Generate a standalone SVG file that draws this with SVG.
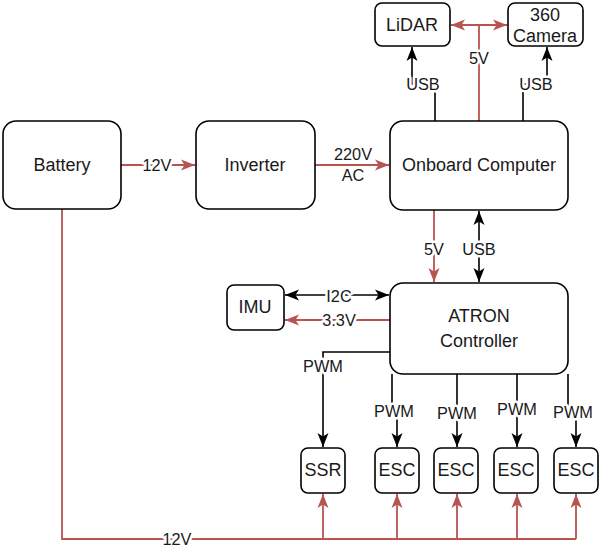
<svg xmlns="http://www.w3.org/2000/svg" width="601" height="547" viewBox="0 0 601 547">
<style>
.node rect{fill:#fff;stroke:#000;stroke-width:1.6}
.t{font-family:"Liberation Sans",Arial,sans-serif;font-size:18px;fill:#1a1a1a;text-anchor:middle;dominant-baseline:central}
.lb{font-family:"Liberation Sans",Arial,sans-serif;font-size:16.3px;fill:#1a1a1a;text-anchor:middle;dominant-baseline:central;stroke:#fff;stroke-width:5;paint-order:stroke;stroke-linejoin:round}
.k{fill:none;stroke:#000;stroke-width:1.6}
.r{fill:none;stroke:#b85450;stroke-width:1.8}
.ka{marker-end:url(#ak)}
.ra{marker-end:url(#ar)}
.kb{marker-start:url(#ak);marker-end:url(#ak)}
.rb{marker-start:url(#ar);marker-end:url(#ar)}
</style>
<defs>
<marker id="ak" markerUnits="userSpaceOnUse" markerWidth="15" markerHeight="13" viewBox="0 0 15 13" refX="14" refY="6.5" orient="auto-start-reverse"><path d="M0,1 L14,6.5 L0,12 L3.5,6.5 Z" fill="#000"/></marker>
<marker id="ar" markerUnits="userSpaceOnUse" markerWidth="15" markerHeight="13" viewBox="0 0 15 13" refX="14" refY="6.5" orient="auto-start-reverse"><path d="M0,1 L14,6.5 L0,12 L3.5,6.5 Z" fill="#b85450"/></marker>
</defs>
<g id="connectors">
<path class="r ra" d="M121,165 H195"/>
<path class="r ra" d="M315,165 H389"/>
<path class="r rb" d="M451,25 H507"/>
<path class="r" d="M479,25 V121"/>
<path class="k ka" d="M435,121 V84 H412 V47"/>
<path class="k ka" d="M523,121 V84 H547 V47"/>
<path class="r ra" d="M434,210 V282"/>
<path class="k kb" d="M479,211 V282"/>
<path class="k kb" d="M285,295 H389"/>
<path class="r ra" d="M390,320 H285"/>
<path class="k ka" d="M390,352 H323 V447"/>
<path class="k ka" d="M392,374 V410 H397 V447"/>
<path class="k ka" d="M457,374 V447"/>
<path class="k ka" d="M517,374 V447"/>
<path class="k ka" d="M568,374 V410 H576 V447"/>
<path class="r" d="M62,209 V539 H576"/>
<path class="r ra" d="M323,539 V494"/>
<path class="r ra" d="M397,539 V494"/>
<path class="r ra" d="M457,539 V494"/>
<path class="r ra" d="M517,539 V494"/>
<path class="r ra" d="M576,539 V494"/>
<text class="lb" x="157" y="165">12V</text>
<text class="lb" x="353" y="154">220V</text>
<text class="lb" x="353" y="175">AC</text>
<text class="lb" x="479" y="58">5V</text>
<text class="lb" x="423" y="84">USB</text>
<text class="lb" x="536" y="84">USB</text>
<text class="lb" x="434" y="249">5V</text>
<text class="lb" x="479" y="249">USB</text>
<text class="lb" x="339" y="296">I2C</text>
<text class="lb" x="339" y="320">3.3V</text>
<text class="lb" x="323" y="366">PWM</text>
<text class="lb" x="394" y="411">PWM</text>
<text class="lb" x="457" y="413">PWM</text>
<text class="lb" x="517" y="409">PWM</text>
<text class="lb" x="573" y="412">PWM</text>
<text class="lb" x="177" y="539">12V</text>
</g>
<g id="battery" class="node"><rect x="3" y="121" width="118" height="88" rx="13"/><text class="t" x="62" y="165">Battery</text></g>
<g id="inverter" class="node"><rect x="196" y="121" width="119" height="88" rx="13"/><text class="t" x="255" y="165">Inverter</text></g>
<g id="computer" class="node"><rect x="390" y="121" width="178" height="89" rx="13"/><text class="t" x="479" y="165">Onboard Computer</text></g>
<g id="lidar" class="node"><rect x="375" y="3" width="75" height="43" rx="7"/><text class="t" x="412" y="25">LiDAR</text></g>
<g id="camera" class="node"><rect x="508" y="3" width="75" height="43" rx="7"/><text class="t" x="545" y="15">360</text><text class="t" x="545" y="36">Camera</text></g>
<g id="controller" class="node"><rect x="390" y="283" width="178" height="91" rx="13"/><text class="t" x="479" y="316">ATRON</text><text class="t" x="479" y="341">Controller</text></g>
<g id="imu" class="node"><rect x="227" y="285" width="57" height="45" rx="7"/><text class="t" x="255" y="307">IMU</text></g>
<g id="ssr" class="node"><rect x="301" y="448" width="44" height="45" rx="7"/><text class="t" x="323" y="470">SSR</text></g>
<g id="esc1" class="node"><rect x="375" y="448" width="44" height="45" rx="7"/><text class="t" x="397" y="470">ESC</text></g>
<g id="esc2" class="node"><rect x="434" y="448" width="44" height="45" rx="7"/><text class="t" x="456" y="470">ESC</text></g>
<g id="esc3" class="node"><rect x="494" y="448" width="44" height="45" rx="7"/><text class="t" x="516" y="470">ESC</text></g>
<g id="esc4" class="node"><rect x="554" y="448" width="44" height="45" rx="7"/><text class="t" x="576" y="470">ESC</text></g>
</svg>
